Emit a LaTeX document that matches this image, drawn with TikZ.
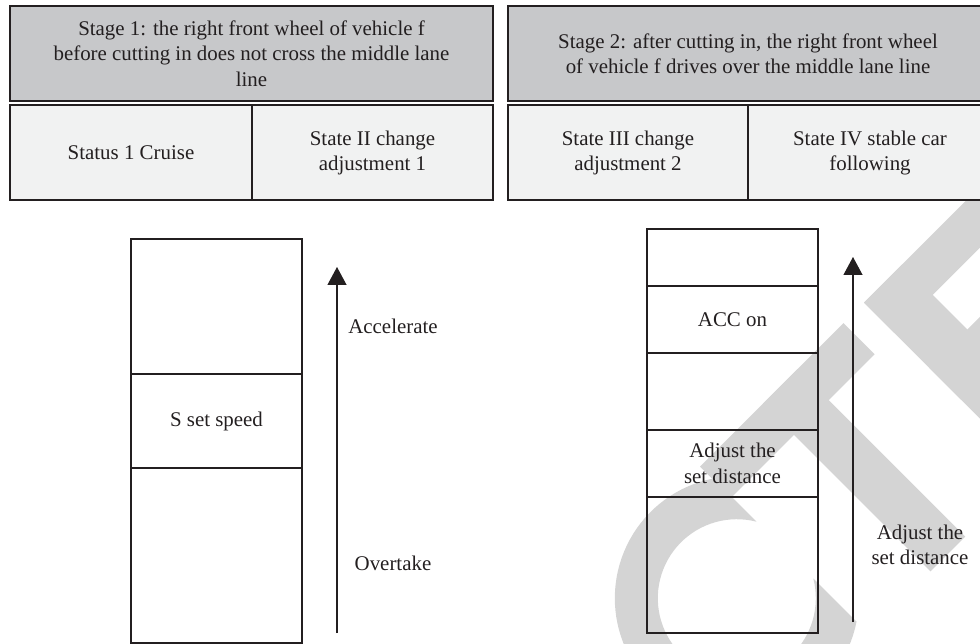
\documentclass[tikz,border=0pt]{standalone}
\usepackage{fontspec}
\setmainfont{Liberation Serif}
\usetikzlibrary{arrows.meta}
\definecolor{hdr}{RGB}{199,200,202}
\definecolor{subc}{RGB}{241,242,242}
\definecolor{ink}{RGB}{35,31,32}
\definecolor{wmc}{RGB}{212,212,212}
\tikzset{
  txt/.style={font=\fontsize{20.9}{25.5}\selectfont, text=ink, align=center},
  hdrbox/.style={txt, draw=ink, line width=2pt, fill=hdr, inner sep=0pt},
  subbox/.style={txt, draw=ink, line width=2pt, fill=subc, inner sep=0pt},
  colbox/.style={txt, draw=ink, line width=1.5pt, inner sep=0pt, minimum width=171pt},
  arr/.style={draw=ink, line width=1.2pt, -{Triangle[width=19pt,length=18pt]}},
  lbl/.style={txt, inner sep=0pt},
  wmark/.style={fill=wmc, draw=none}
}
\begin{document}
\begin{tikzpicture}[x=1pt,y=-1pt]
\useasboundingbox (0,0) rectangle (980,644);
% watermark fragments (C, T, E), drawn in a 45-degree letter frame
\begin{scope}
\clip (0,0) rectangle (980,644);
\begin{scope}[x={(0.7071pt,0.7071pt)}, y={(0.7071pt,-0.7071pt)}]
  % C
  \path[wmark] plot[domain=56.1:303.9, samples=80] ({98+122*cos(\x)},{944+122*sin(\x)})
     -- plot[domain=30.6:329.4, samples=80] ({98+79*cos(\x)},{944-79*sin(\x)}) -- cycle;
  % T
  \path[wmark] (165,825) -- (368,825) -- (368,869) -- (165,869) -- cycle;
  \path[wmark] (254,825) -- (303,825) -- (303,1062) -- (254,1062) -- cycle;
  % E
  \path[wmark] (397,825) -- (451,825) -- (451,1062) -- (397,1062) -- cycle;
  \path[wmark] (397,825) -- (620,825) -- (620,868) -- (397,868) -- cycle;
  \path[wmark] (397,917) -- (600,917) -- (600,962) -- (397,962) -- cycle;
  \path[wmark] (397,1017) -- (620,1017) -- (620,1062) -- (397,1062) -- cycle;
\end{scope}
\end{scope}
% headers
\node[hdrbox, minimum width=483pt, minimum height=95pt] (st1) at (251.5,53.5)
  {Stage 1: the right front wheel of vehicle f\\before cutting in does not cross the middle lane\\line};
\node[subbox, minimum width=242pt, minimum height=95pt] (s1) at (131,153) {Status 1 Cruise};
\node[subbox, minimum width=241pt, minimum height=95pt] (s2) at (372.5,153) {State II change\\adjustment 1};
\node[hdrbox, minimum width=480pt, minimum height=95pt] (st2) at (748,53.5)
  {Stage 2: after cutting in, the right front wheel\\of vehicle f drives over the middle lane line};
\node[subbox, minimum width=240pt, minimum height=95pt] (s3) at (628,153) {State III change\\adjustment 2};
\node[subbox, minimum width=244pt, minimum height=95pt] (s4) at (870,153) {State IV stable car\\following};
% left column
\node[colbox, minimum height=404pt] (c1) at (216.5,441) {};
\node[colbox, minimum height=94pt] (sp) at (216.5,421) {S set speed};
\coordinate (a1s) at (337,633);
\coordinate (a1e) at (337,267);
\draw[arr] (a1s) -- (a1e);
\node[lbl] (acc) at (393,326) {Accelerate};
\node[lbl] (ovt) at (393,563) {Overtake};
% right column
\node[colbox, minimum height=404pt] (c2) at (732.5,431) {};
\node[colbox, minimum height=67pt] (accon) at (732.5,319.5) {ACC on};
\node[colbox, minimum height=67pt] (adj) at (732.5,463.5) {Adjust the\\set distance};
\coordinate (a2s) at (853,622);
\coordinate (a2e) at (853,257);
\draw[arr] (a2s) -- (a2e);
\node[lbl] (adjl) at (920,545) {Adjust the\\set distance};
\end{tikzpicture}
\end{document}
